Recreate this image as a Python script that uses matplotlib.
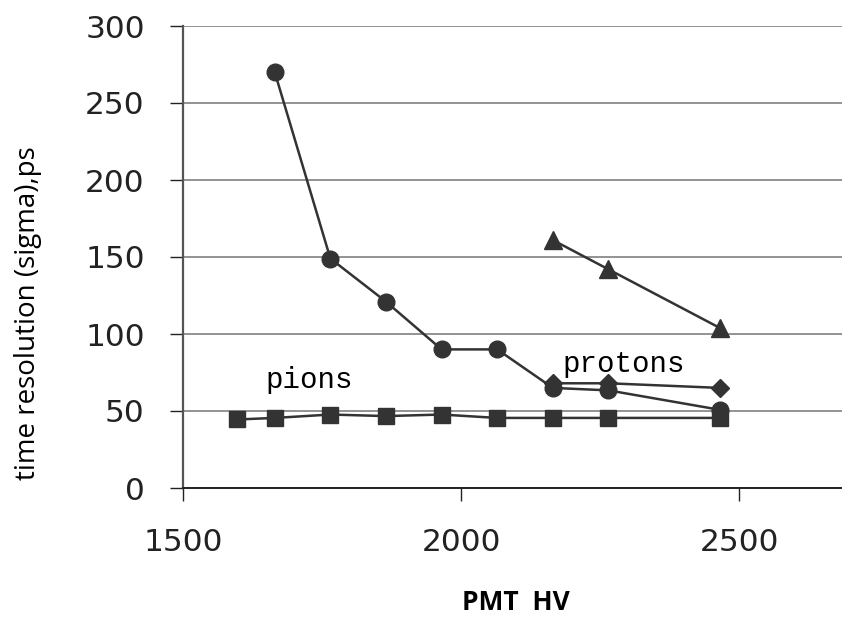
import matplotlib
matplotlib.use('Agg')
import matplotlib.pyplot as plt

# PMT high voltage points
hv_pions = [1598, 1665, 1765, 1865, 1965, 2065, 2165, 2265, 2465]
res_pions = [44.5, 45.5, 47.7, 46.7, 47.7, 45.5, 45.5, 45.5, 45.5]

hv_circle = [1665, 1765, 1865, 1965, 2065, 2165, 2265, 2465]
res_circle = [270, 149, 121, 90, 90, 65, 63.4, 50.8]

hv_protons = [2165, 2265, 2465]
res_triangle = [161, 142, 104]
res_diamond = [68, 68, 65]

line_col = '#333333'

fig = plt.figure(figsize=(8.42, 6.17), dpi=100)
ax = fig.add_axes([183 / 842, (617 - 488) / 617, 659 / 842, 462 / 617])

ax.plot(hv_pions, res_pions, color=line_col, lw=1.8, marker='s', ms=11.5, zorder=3)
ax.plot(hv_circle, res_circle, color=line_col, lw=1.8, marker='o', ms=12, zorder=3)
ax.plot(hv_protons, res_triangle, color=line_col, lw=1.8, marker='^', ms=13, zorder=3)
ax.plot(hv_protons, res_diamond, color=line_col, lw=1.8, marker='D', ms=9.5, zorder=3)

ax.text(1649, 65, 'pions', family='Liberation Mono', fontsize=21, va='baseline')
ax.text(2182, 75.3, 'protons', family='Liberation Mono', fontsize=21, va='baseline')

ax.set_xlim(1500, 2685)
ax.set_ylim(0, 300)
ax.set_xticks([1500, 2000, 2500])
ax.set_yticks([0, 50, 100, 150, 200, 250, 300])

ax.yaxis.grid(True, color='#808080', lw=1.2)
ax.set_axisbelow(True)
for s in ['top', 'right']:
    ax.spines[s].set_visible(False)
ax.spines['left'].set_color('#555555')
ax.spines['left'].set_linewidth(1.6)
ax.spines['bottom'].set_color('#222222')
ax.spines['bottom'].set_linewidth(1.4)

ax.tick_params(axis='y', length=9.5, width=1.0, pad=18, labelsize=22.5, colors='#222222')
ax.tick_params(axis='x', length=9, width=1.0, pad=20, labelsize=22.5, colors='#222222')

ax.set_ylabel('time resolution (sigma),ps', family='Open Sans', fontsize=20,
              ha='center', va='center')
ax.yaxis.set_label_coords((28 - 183) / 659, (488 - 313) / 462)
ax.set_xlabel('PMT  HV', family='Open Sans', fontsize=19, fontweight='bold',
              ha='center', va='center')
ax.xaxis.set_label_coords((516 - 183) / 659, (488 - 603) / 462)

plt.savefig('out.png', dpi=100)
